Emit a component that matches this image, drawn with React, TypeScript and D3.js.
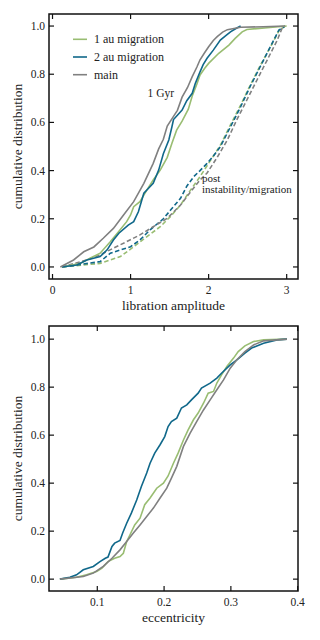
import React from "react";
import * as d3 from "d3";

type P = [number, number];

// ---------- top panel: libration amplitude ----------
const libXTicks = [0, 1, 2, 3];
const cdfYTicks = [0, 0.2, 0.4, 0.6, 0.8, 1.0];

const lib1GyrGreen: P[] = [[0.12,0],[0.36,0.015],[0.48,0.036],[0.61,0.057],[0.74,0.105],[0.83,0.14],[0.95,0.188],[1.0,0.216],[1.04,0.25],[1.12,0.271],[1.21,0.32],[1.29,0.361],[1.38,0.402],[1.47,0.455],[1.53,0.513],[1.59,0.568],[1.66,0.605],[1.74,0.655],[1.79,0.71],[1.85,0.76],[1.89,0.797],[1.95,0.825],[2.0,0.845],[2.13,0.887],[2.26,0.921],[2.34,0.949],[2.43,0.976],[2.49,0.986],[2.75,0.993],[3.0,1.0]];
const lib1GyrBlue: P[] = [[0.12,0],[0.31,0.008],[0.44,0.029],[0.61,0.043],[0.7,0.071],[0.78,0.112],[0.85,0.14],[0.97,0.174],[1.04,0.188],[1.1,0.229],[1.17,0.306],[1.23,0.327],[1.29,0.347],[1.36,0.402],[1.42,0.47],[1.49,0.527],[1.53,0.582],[1.55,0.612],[1.6,0.63],[1.66,0.651],[1.72,0.69],[1.79,0.721],[1.83,0.762],[1.89,0.81],[1.93,0.84],[1.98,0.866],[2.06,0.9],[2.15,0.942],[2.22,0.96],[2.28,0.976],[2.35,0.99],[2.41,1.0]];
const lib1GyrGray: P[] = [[0.1,0],[0.27,0.029],[0.4,0.063],[0.53,0.083],[0.65,0.119],[0.78,0.16],[0.91,0.216],[1.04,0.271],[1.17,0.347],[1.29,0.43],[1.36,0.49],[1.42,0.53],[1.47,0.585],[1.55,0.625],[1.6,0.65],[1.66,0.705],[1.73,0.745],[1.79,0.79],[1.85,0.83],[1.89,0.86],[1.95,0.89],[2.0,0.914],[2.06,0.94],[2.11,0.956],[2.18,0.975],[2.24,0.985],[2.41,0.995],[2.7,0.997],[2.98,1.0]];

const libPostGreen: P[] = [[0.13,0],[0.61,0.015],[0.87,0.043],[1.04,0.084],[1.21,0.126],[1.38,0.167],[1.51,0.209],[1.64,0.257],[1.77,0.32],[1.89,0.375],[1.98,0.42],[2.06,0.46],[2.15,0.505],[2.28,0.59],[2.41,0.672],[2.53,0.752],[2.66,0.835],[2.79,0.912],[2.9,0.98],[2.98,1.0]];
const libPostBlue: P[] = [[0.13,0],[0.61,0.022],[0.74,0.057],[1.0,0.084],[1.12,0.112],[1.25,0.154],[1.42,0.2],[1.51,0.235],[1.64,0.285],[1.72,0.335],[1.81,0.375],[1.89,0.4],[1.98,0.43],[2.06,0.46],[2.15,0.499],[2.28,0.582],[2.41,0.665],[2.53,0.748],[2.66,0.831],[2.79,0.914],[2.9,0.983],[2.98,1.0]];
const libPostGray: P[] = [[0.12,0],[0.44,0.029],[0.61,0.05],[0.78,0.078],[0.95,0.105],[1.12,0.133],[1.29,0.167],[1.47,0.202],[1.64,0.257],[1.77,0.312],[1.89,0.361],[1.98,0.39],[2.06,0.43],[2.11,0.455],[2.24,0.527],[2.36,0.61],[2.49,0.693],[2.62,0.776],[2.75,0.859],[2.88,0.942],[2.94,0.99],[2.98,1.0]];

// ---------- bottom panel: eccentricity ----------
const eccXTicks = [0.1, 0.2, 0.3, 0.4];

const eccGreen: P[] = [[0.044,0],[0.069,0.008],[0.084,0.018],[0.099,0.032],[0.107,0.046],[0.116,0.073],[0.126,0.087],[0.134,0.094],[0.139,0.108],[0.144,0.157],[0.149,0.185],[0.156,0.226],[0.164,0.254],[0.171,0.31],[0.179,0.338],[0.189,0.379],[0.199,0.4],[0.206,0.43],[0.214,0.483],[0.221,0.525],[0.229,0.58],[0.236,0.622],[0.244,0.664],[0.251,0.692],[0.259,0.733],[0.266,0.775],[0.274,0.782],[0.279,0.817],[0.286,0.851],[0.294,0.886],[0.304,0.921],[0.311,0.948],[0.321,0.972],[0.334,0.99],[0.349,0.997],[0.384,1.0]];
const eccBlue: P[] = [[0.044,0],[0.059,0.008],[0.069,0.018],[0.079,0.039],[0.094,0.053],[0.104,0.073],[0.112,0.087],[0.116,0.092],[0.122,0.136],[0.126,0.15],[0.134,0.161],[0.138,0.192],[0.144,0.233],[0.151,0.275],[0.159,0.33],[0.166,0.386],[0.174,0.442],[0.179,0.483],[0.186,0.525],[0.194,0.56],[0.201,0.594],[0.206,0.636],[0.211,0.657],[0.219,0.671],[0.226,0.713],[0.234,0.726],[0.241,0.747],[0.251,0.775],[0.256,0.796],[0.269,0.817],[0.279,0.838],[0.286,0.858],[0.299,0.893],[0.309,0.914],[0.321,0.942],[0.331,0.963],[0.349,0.983],[0.369,0.997],[0.384,1.0]];
const eccGray: P[] = [[0.044,0],[0.079,0.011],[0.094,0.025],[0.109,0.053],[0.122,0.087],[0.134,0.122],[0.144,0.157],[0.154,0.192],[0.164,0.226],[0.174,0.261],[0.184,0.296],[0.194,0.338],[0.204,0.379],[0.211,0.421],[0.219,0.47],[0.229,0.553],[0.239,0.608],[0.249,0.657],[0.259,0.705],[0.269,0.747],[0.279,0.789],[0.289,0.83],[0.299,0.879],[0.309,0.914],[0.321,0.948],[0.334,0.976],[0.349,0.993],[0.384,1.0]];

const legendLabels = ["1 au migration", "2 au migration", "main"];
const GREEN = "#99bd72";
const BLUE = "#10688a";
const GRAY = "#808080";
const seriesColors = [GREEN, BLUE, GRAY];

const FONT = "'Liberation Serif', 'DejaVu Serif', serif";
const TEXT = "#222";

interface PanelProps {
  top: number;
  bottom: number;
  xDomain: [number, number];
  yDomain: [number, number];
  xTicks: number[];
  xFmt: (v: number) => string;
  xLabel: string;
  solid: P[][];
  dashed: P[][];
  children?: React.ReactNode;
}

const LEFT = 49;
const RIGHT = 298;

function Panel(p: PanelProps) {
  const x = d3.scaleLinear().domain(p.xDomain).range([LEFT, RIGHT]);
  const y = d3.scaleLinear().domain(p.yDomain).range([p.bottom, p.top]);
  const line = d3.line<P>().x((d) => x(d[0])).y((d) => y(d[1]));
  const tl = 5;
  return (
    <g>
      {p.dashed.map((s, i) => (
        <path key={"d" + i} d={line(s) || ""} fill="none" stroke={seriesColors[i]} strokeWidth={1.6} strokeDasharray="4.5,2.5" />
      ))}
      {p.solid.map((s, i) => (
        <path key={"s" + i} d={line(s) || ""} fill="none" stroke={seriesColors[i]} strokeWidth={1.6} />
      ))}
      <rect x={LEFT} y={p.top} width={RIGHT - LEFT} height={p.bottom - p.top} fill="none" stroke="#111" strokeWidth={1.5} />
      {p.xTicks.map((t) => (
        <g key={"xt" + t}>
          <line x1={x(t)} x2={x(t)} y1={p.bottom} y2={p.bottom - tl} stroke="#111" strokeWidth={1.2} />
          <line x1={x(t)} x2={x(t)} y1={p.top} y2={p.top + tl} stroke="#111" strokeWidth={1.2} />
          <text x={x(t)} y={p.bottom + 15} textAnchor="middle" fontFamily={FONT} fontSize={11.5} fill={TEXT}>
            {p.xFmt(t)}
          </text>
        </g>
      ))}
      {cdfYTicks.map((t) => (
        <g key={"yt" + t}>
          <line x1={LEFT} x2={LEFT + tl} y1={y(t)} y2={y(t)} stroke="#111" strokeWidth={1.2} />
          <line x1={RIGHT} x2={RIGHT - tl} y1={y(t)} y2={y(t)} stroke="#111" strokeWidth={1.2} />
          <text x={45} y={y(t) + 4} textAnchor="end" fontFamily={FONT} fontSize={11.5} fill={TEXT}>
            {t.toFixed(1)}
          </text>
        </g>
      ))}
      <text x={(LEFT + RIGHT) / 2} y={p.bottom + 31} textAnchor="middle" fontFamily={FONT} fontSize={13.5} fill={TEXT}>
        {p.xLabel}
      </text>
      <text
        transform={`translate(22,${(p.top + p.bottom) / 2}) rotate(-90)`}
        textAnchor="middle"
        fontFamily={FONT}
        fontSize={13.5}
        fill={TEXT}
      >
        cumulative distribution
      </text>
      {p.children}
    </g>
  );
}

export default function App() {
  return (
    <svg width={320} height={640} style={{ position: "absolute", left: 0, top: 0, background: "#fff" }}>
      <Panel
        top={14}
        bottom={279}
        xDomain={[-0.045, 3.145]}
        yDomain={[-0.05, 1.05]}
        xTicks={libXTicks}
        xFmt={(v) => String(v)}
        xLabel="libration amplitude"
        solid={[lib1GyrGreen, lib1GyrBlue, lib1GyrGray]}
        dashed={[libPostGreen, libPostBlue, libPostGray]}
      >
        {legendLabels.map((l, i) => (
          <g key={l}>
            <line x1={73} x2={87} y1={39.3 + i * 17.7} y2={39.3 + i * 17.7} stroke={seriesColors[i]} strokeWidth={1.6} />
            <text x={94} y={39.3 + i * 17.7 + 4} fontFamily={FONT} fontSize={12} fill={TEXT}>
              {l}
            </text>
          </g>
        ))}
        <text x={147.5} y={96.5} fontFamily={FONT} fontSize={11.5} fill={TEXT}>1 Gyr</text>
        <text x={202} y={182} fontFamily={FONT} fontSize={11} fill={TEXT}>post</text>
        <text x={202} y={193} fontFamily={FONT} fontSize={11} fill={TEXT}>instability/migration</text>
      </Panel>
      <Panel
        top={326}
        bottom={591}
        xDomain={[0.0277, 0.4005]}
        yDomain={[-0.0494, 1.0548]}
        xTicks={eccXTicks}
        xFmt={(v) => v.toFixed(1)}
        xLabel="eccentricity"
        solid={[eccGreen, eccBlue, eccGray]}
        dashed={[]}
      />
    </svg>
  );
}
